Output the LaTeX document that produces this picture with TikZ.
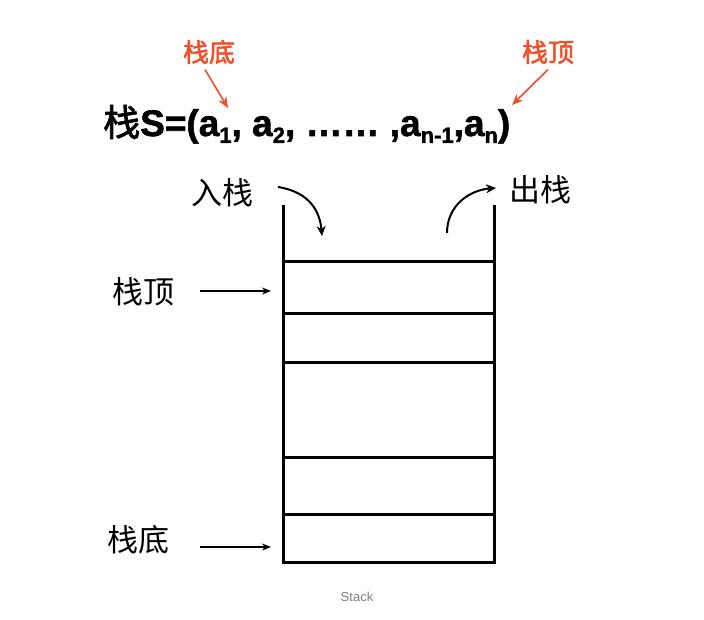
\documentclass[tikz,border=0pt]{standalone}
\usetikzlibrary{arrows.meta}
\usepackage{fontspec}
\setmainfont{Liberation Sans}
\newfontfamily\cjk{Noto Sans CJK SC}
\newfontfamily\cjkb[FakeBold=2]{Noto Sans CJK SC}
\newfontfamily\bsans[FakeBold=1.5]{Liberation Sans Bold}
\definecolor{redl}{RGB}{240,80,40}
\newcommand{\sbs}[1]{\raisebox{-0.35ex}{\fontsize{22}{22}\selectfont #1}}
\begin{document}
\begin{tikzpicture}[x=1pt,y=-1pt,
  wall/.style={line width=3pt},
  lbl/.style={font=\fontsize{31}{31}\selectfont\cjk},
  rlbl/.style={font=\fontsize{26}{26}\selectfont\cjkb, text=redl},
  ptr/.style={-{Stealth[length=9pt,width=7pt]}, line width=1.5pt},
  rptr/.style={-{Stealth[length=11pt,width=9pt]}, line width=1.6pt, draw=redl},
  carr/.style={-{Stealth[length=10pt,width=9pt]}, line width=2pt}]
\useasboundingbox (0,0) rectangle (704,620);
\fill[white] (0,0) rectangle (704,620);
% stack
\coordinate (tl) at (283,205); \coordinate (bl) at (283,562);
\coordinate (tr) at (494,205); \coordinate (br) at (494,562);
\draw[wall] (tl) -- (bl) -- (br) -- (tr);
\foreach \y in {262,314,362,457,514}{\draw[wall] (283,\y) -- (494,\y);}
% formula
\node[anchor=base west, inner sep=0] (f) at (103,136) {\fontsize{37}{37}\selectfont{\cjkb 栈}\bsans S=(a\sbs{1}, a\sbs{2}, …… ,a\sbs{n-1},a\sbs{n})};
\node[rlbl] (rb) at (209,52) {栈底};
\node[rlbl] (rt) at (548,52) {栈顶};
\coordinate (rbe) at (228,108); \coordinate (rte) at (512,105);
\draw[rptr] (rb.south) ++(-4,2) -- (rbe);
\draw[rptr] (rt.south) ++(0,2) -- (rte);
% push/pop
\node[lbl] (push) at (222,193) {入栈};
\node[lbl] (pop) at (540,190) {出栈};
\coordinate (pushe) at (322,236); \coordinate (pops) at (447,233); \coordinate (pope) at (496,188);
\draw[carr] (278,187) .. controls (310,192) and (320,212) .. (pushe);
\draw[carr] (pops) .. controls (447,205) and (470,190) .. (pope);
% side labels
\node[lbl] (top) at (143,292) {栈顶};
\node[lbl] (bot) at (138,540) {栈底};
\coordinate (tope) at (271,291); \coordinate (bote) at (271,547);
\draw[ptr] (200,291) -- (tope);
\draw[ptr, line width=2.5pt] (200,547) -- (bote);
\node[text=gray, font=\fontsize{13}{13}\selectfont] (cap) at (357,597) {Stack};
\end{tikzpicture}
\end{document}
